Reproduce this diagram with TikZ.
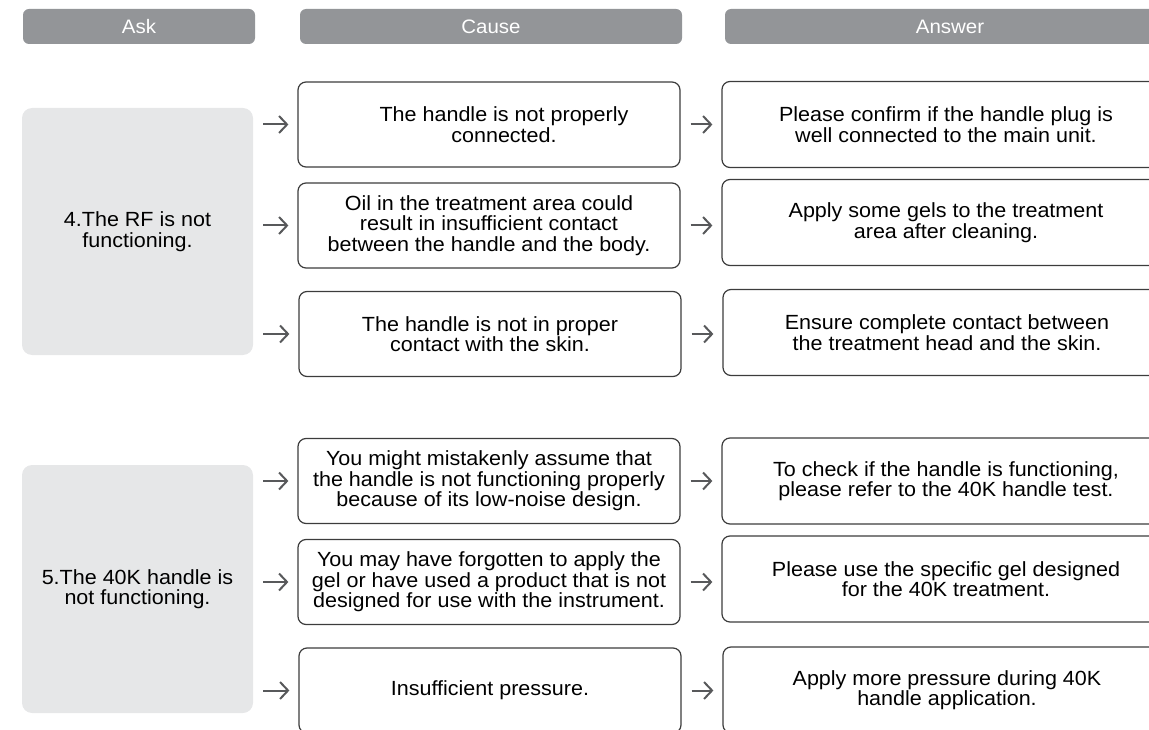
\documentclass[tikz,border=0pt]{standalone}
\usepackage{fontspec}
\setmainfont{Liberation Sans}[FakeStretch=1.05]
\usetikzlibrary{arrows.meta}
\definecolor{headgray}{HTML}{939598}
\definecolor{askgray}{HTML}{E6E7E8}
\definecolor{linegray}{HTML}{3C3C3C}
\definecolor{arrowgray}{HTML}{58595B}
\tikzstyle{head} = [rectangle, rounded corners=6pt, minimum height=35pt, text centered, fill=headgray, text=white, font=\fontsize{19.5}{20}\selectfont]
\tikzstyle{askbox} = [rectangle, rounded corners=10pt, minimum width=231pt, text centered, fill=askgray, font=\fontsize{20.5}{20.5}\selectfont]
\tikzstyle{causebox} = [rectangle, rounded corners=8pt, minimum width=382pt, minimum height=85pt, text centered, draw=linegray, line width=1.2pt, font=\fontsize{20.5}{20.5}\selectfont]
\tikzstyle{answerbox} = [rectangle, rounded corners=8pt, minimum width=448pt, minimum height=86pt, text centered, draw=linegray, line width=1.2pt, font=\fontsize{20.5}{20.5}\selectfont]
\tikzstyle{arrow} = [draw=arrowgray, line width=2pt, -{Straight Barb[length=8pt,width=17pt]}, shorten <=10pt, shorten >=9pt]

\begin{document}
\begin{tikzpicture}[x=1pt, y=-1pt]
\useasboundingbox (0,0) rectangle (1149,730);
\clip (0,0) rectangle (1149,730);

% Headers
\node (headAsk) [head, minimum width=232pt] at (139,26.5) {Ask};
\node (headCause) [head, minimum width=382pt] at (491,26.5) {Cause};
\node (headAnswer) [head, minimum width=450pt] at (950,26.5) {Answer};

% Column 1 - Ask
\node[align=center] (ask4) [askbox, minimum height=247pt] at (137.5,231.5) {4.The RF is not\\functioning.};
\node[align=center] (ask5) [askbox, minimum height=248pt] at (137.5,589) {5.The 40K handle is\\not functioning.};

% Column 2 - Cause
\node[align=center] (cause1) [causebox] at (489,124.5) {\hspace*{30pt}The handle is not properly\\\hspace*{30pt}connected.};
\node[align=center] (cause2) [causebox] at (489,225.5) {Oil in the treatment area could\\result in insufficient contact\\between the handle and the body.};
\node[align=center] (cause3) [causebox] at (490,334) {The handle is not in proper\\contact with the skin.};
\node[align=center] (cause4) [causebox] at (489,481) {You might mistakenly assume that\\the handle is not functioning properly\\because of its low-noise design.};
\node[align=center] (cause5) [causebox] at (489,582) {You may have forgotten to apply the\\gel or have used a product that is not\\designed for use with the instrument.};
\node[align=center] (cause6) [causebox] at (490,690.5) {Insufficient pressure.};

% Column 3 - Answer
\node[align=center] (answer1) [answerbox] at (946,124.5) {Please confirm if the handle plug is\\well connected to the main unit.};
\node[align=center] (answer2) [answerbox] at (946,222.5) {Apply some gels to the treatment\\area after cleaning.};
\node[align=center] (answer3) [answerbox] at (947,332.5) {Ensure complete contact between\\the treatment head and the skin.};
\node[align=center] (answer4) [answerbox] at (946,481) {To check if the handle is functioning,\\please refer to the 40K handle test.};
\node[align=center] (answer5) [answerbox] at (946,579) {Please use the specific gel designed\\for the 40K treatment.};
\node[align=center] (answer6) [answerbox] at (947,690) {Apply more pressure during 40K\\handle application.};

% Ask - Cause arrows
\draw [arrow] (ask4.east |- cause1.west) -- (cause1.west);
\draw [arrow] (ask4.east |- cause2.west) -- (cause2.west);
\draw [arrow] (ask4.east |- cause3.west) -- (cause3.west);
\draw [arrow] (ask5.east |- cause4.west) -- (cause4.west);
\draw [arrow] (ask5.east |- cause5.west) -- (cause5.west);
\draw [arrow] (ask5.east |- cause6.west) -- (cause6.west);

% Cause - Answer arrows
\draw [arrow] (cause1.east) -- (cause1.east -| answer1.west);
\draw [arrow] (cause2.east) -- (cause2.east -| answer2.west);
\draw [arrow] (cause3.east) -- (cause3.east -| answer3.west);
\draw [arrow] (cause4.east) -- (cause4.east -| answer4.west);
\draw [arrow] (cause5.east) -- (cause5.east -| answer5.west);
\draw [arrow] (cause6.east) -- (cause6.east -| answer6.west);

\end{tikzpicture}
\end{document}
